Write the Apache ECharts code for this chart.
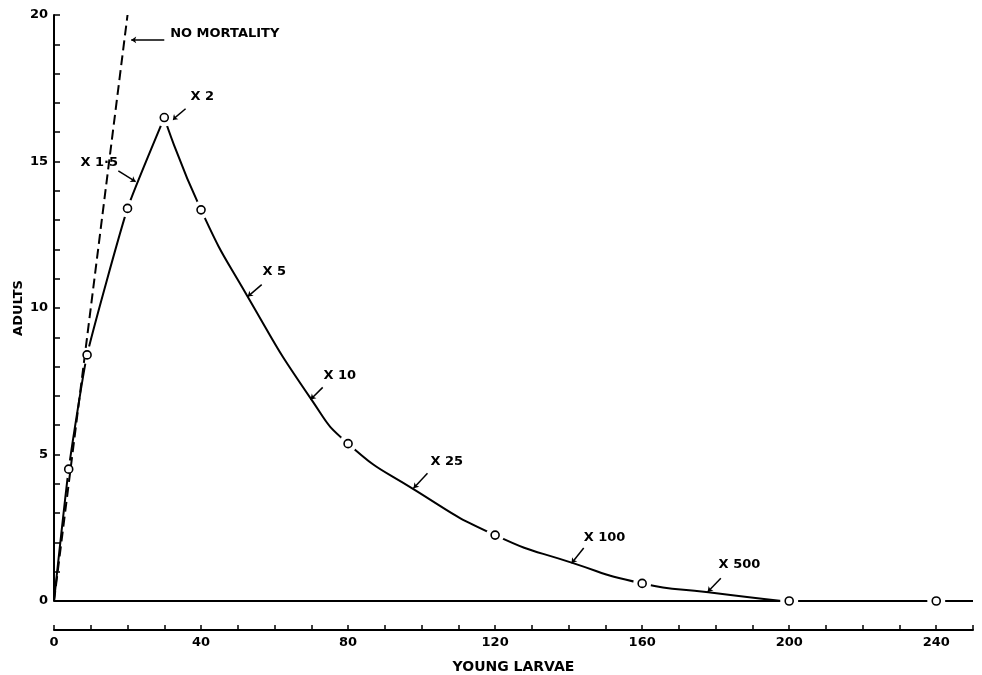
<!DOCTYPE html>
<html>
<head>
<meta charset="utf-8">
<script src="https://cdn.jsdelivr.net/npm/echarts@6/dist/echarts.min.js"></script>
<style>
html,body{margin:0;padding:0;background:#fff;}
#chart{width:982px;height:675px;}
</style>
</head>
<body>
<div id="chart"></div>
<script>
// ---- data ----
const larvaeRise = [0, 4, 9, 20, 30];
const adultsRise = [0, 4.5, 8.4, 13.4, 16.5];
const larvaeFall = [30, 40, 52.5, 70, 80, 98, 120, 141, 160, 178, 198];
const adultsFall = [16.5, 13.35, 10.43, 6.88, 5.37, 3.8, 2.25, 1.3, 0.6, 0.3, 0];
const markerLarvae = [4, 9, 20, 30, 40, 80, 120, 160, 200, 240];
const markerAdults = [4.5, 8.4, 13.4, 16.5, 13.35, 5.37, 2.25, 0.6, 0, 0];
const noMortalityLarvae = [0, 20];
const noMortalityAdults = [0, 20];
const zeroLineLarvae = [0, 250];
const zeroLineAdults = [0, 0];
const xTickLabels = [0, 40, 80, 120, 160, 200, 240];
const yTickLabels = [0, 5, 10, 15, 20];
const annotationTexts = ['NO MORTALITY', 'X 2', 'X 1·5', 'X 5', 'X 10', 'X 25', 'X 100', 'X 500'];
const annotationTextAt = [[31.6, 19.35], [37.1, 17.2], [7.2, 14.96], [56.7, 11.24], [73.3, 7.7], [102.4, 4.77], [144.1, 2.18], [180.8, 1.23]];
const annotationArrowFrom = [[30.0, 19.15], [35.8, 16.8], [17.5, 14.68], [56.5, 10.8], [73.1, 7.29], [101.6, 4.36], [144.1, 1.81], [181.4, 0.78]];
const annotationArrowTo = [[21.0, 19.15], [32.2, 16.42], [22.2, 14.31], [52.7, 10.39], [69.8, 6.88], [97.8, 3.85], [140.8, 1.29], [177.8, 0.31]];

const ink = '#000';
const font = 'DejaVu Sans';
const weight = 'bold';
const zip = (a, b) => a.map((v, i) => [v, b[i]]);

const chart = echarts.init(document.getElementById('chart'), null, {renderer: 'canvas'});
chart.setOption({
  backgroundColor: '#fff',
  animation: false,
  grid: {left: 54, right: 9, top: 15, bottom: 74, containLabel: false, outerBoundsMode: 'none'},
  xAxis: [{
    type: 'value', min: 0, max: 250, interval: 10, offset: 29,
    name: 'YOUNG LARVAE', nameLocation: 'middle', nameGap: 30, nameMoveOverlap: false,
    nameTextStyle: {color: ink, fontFamily: font, fontSize: 14, fontWeight: weight},
    axisLine: {show: true, onZero: false, lineStyle: {color: ink, width: 2}},
    axisTick: {show: true, inside: true, length: 5, lineStyle: {color: ink, width: 1.5}},
    splitLine: {show: false},
    axisLabel: {color: ink, fontFamily: font, fontSize: 13, fontWeight: weight, margin: 6,
      formatter: v => xTickLabels.includes(v) ? String(v) : ''}
  }, {
    type: 'value', min: 0, max: 250, offset: 29, position: 'bottom',
    axisLine: {show: false},
    axisTick: {show: true, inside: true, length: 20, customValues: [0], lineStyle: {color: ink, width: 2}},
    axisLabel: {show: false},
    splitLine: {show: false}
  }],
  yAxis: {
    type: 'value', min: 0, max: 20, interval: 1,
    name: 'ADULTS', nameLocation: 'middle', nameGap: 29, nameRotate: 90, nameMoveOverlap: false,
    nameTextStyle: {color: ink, fontFamily: font, fontSize: 13, fontWeight: weight},
    axisLine: {show: true, onZero: false, lineStyle: {color: ink, width: 2}},
    axisTick: {show: true, inside: true, length: 6, lineStyle: {color: ink, width: 1.5}},
    splitLine: {show: false},
    axisLabel: {color: ink, fontFamily: font, fontSize: 13, fontWeight: weight, margin: 6,
      formatter: v => yTickLabels.includes(v) ? String(v) : ''}
  },
  series: [
    {
      name: 'zero', type: 'line', data: zip(zeroLineLarvae, zeroLineAdults), showSymbol: false,
      lineStyle: {color: ink, width: 2}, z: 2, silent: true
    },
    {
      name: 'rise', type: 'line', data: zip(larvaeRise, adultsRise), showSymbol: false, smooth: 0.15,
      lineStyle: {color: ink, width: 2}, z: 2, silent: true
    },
    {
      name: 'fall', type: 'line', data: zip(larvaeFall, adultsFall), showSymbol: false, smooth: 0.55,
      lineStyle: {color: ink, width: 2}, z: 2, silent: true
    },
    {
      name: 'gaps', type: 'scatter', data: zip(markerLarvae, markerAdults), symbol: 'circle', symbolSize: 18,
      itemStyle: {color: '#ffffff', borderWidth: 0, opacity: 1}, z: 10, silent: true
    },
    {
      name: 'noMortality', type: 'line', data: zip(noMortalityLarvae, noMortalityAdults), showSymbol: false,
      lineStyle: {color: ink, width: 2, type: [10, 5]}, z: 11, silent: true
    },
    {
      name: 'markers', type: 'scatter', data: zip(markerLarvae, markerAdults), symbol: 'circle', symbolSize: 8,
      itemStyle: {color: '#fff', borderColor: ink, borderWidth: 1.6, opacity: 1}, z: 12, silent: true
    },
    {
      name: 'annotations', type: 'scatter', symbolSize: 0, z: 13, silent: true,
      itemStyle: {opacity: 1, color: ink},
      data: annotationTextAt.map((p, i) => ({value: p, name: annotationTexts[i]})),
      label: {show: true, position: 'right', distance: 0, formatter: p => p.name, opacity: 1,
        color: ink, fontFamily: font, fontSize: 13, fontWeight: weight, align: 'left', verticalAlign: 'middle'},
      markLine: {
        silent: true, symbol: ['none', 'arrow'], symbolSize: 5, animation: false,
        label: {show: false},
        lineStyle: {color: ink, width: 1.5, type: 'solid', opacity: 1},
        data: annotationArrowFrom.map((f, i) => [{coord: f}, {coord: annotationArrowTo[i]}])
      }
    }
  ]
});
</script>
</body>
</html>
